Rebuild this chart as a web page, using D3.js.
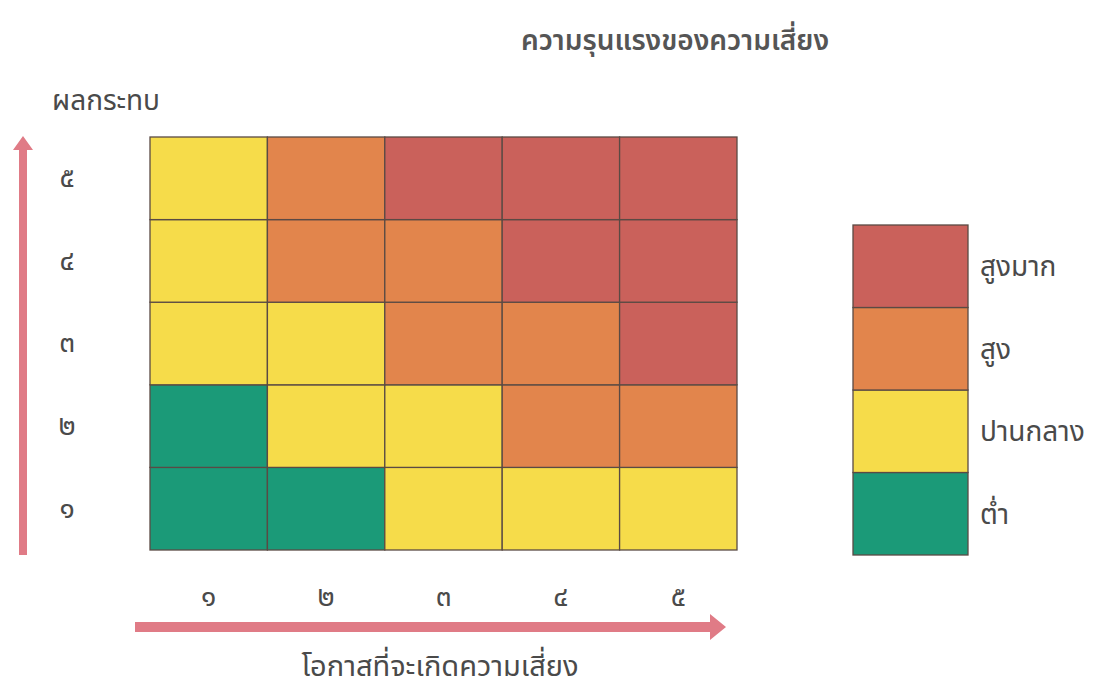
<!DOCTYPE html>
<html>
<head>
<meta charset="utf-8">
<script src="https://cdn.jsdelivr.net/npm/d3@7"></script>
<style>
  body { margin: 0; background: #fff; }
  text { font-family: "Noto Sans Thai", "Noto Sans", "DejaVu Sans", sans-serif; fill: #4a4a4a; }
</style>
</head>
<body>
<div class="risk-matrix"></div>
<script>
// chart data
const likelihood = ['๑', '๒', '๓', '๔', '๕'];
const impact = ['๑', '๒', '๓', '๔', '๕'];
const levels = ['ต่ำ', 'ปานกลาง', 'สูง', 'สูงมาก'];
const levelColors = ['#1b9a78', '#f6dc4a', '#e2854c', '#ca615b'];
// level index per cell, rows = impact ๑..๕, cols = likelihood ๑..๕
const grid = [
  [0, 0, 1, 1, 1],
  [0, 1, 1, 2, 2],
  [1, 1, 2, 2, 3],
  [1, 2, 2, 3, 3],
  [1, 2, 3, 3, 3]
];
const title = 'ความรุนแรงของความเสี่ยง';
const yTitle = 'ผลกระทบ';
const xTitle = 'โอกาสที่จะเกิดความเสี่ยง';

const width = 1097, height = 688;

const svg = d3.select('.risk-matrix')
  .append('svg')
    .attr('width', width)
    .attr('height', height);

// scales
const xScale = d3.scaleBand().domain(likelihood).range([150, 737]);
const yScale = d3.scaleBand().domain(impact).range([550, 137]);
const color = d3.scaleOrdinal().domain(levels).range(levelColors);

const cells = [];
grid.forEach((row, i) => row.forEach((lv, j) => cells.push({ x: likelihood[j], y: impact[i], level: levels[lv] })));

svg.append('g')
  .selectAll('rect')
  .data(cells)
  .join('rect')
    .attr('x', d => xScale(d.x))
    .attr('y', d => yScale(d.y))
    .attr('width', xScale.bandwidth())
    .attr('height', yScale.bandwidth())
    .attr('fill', d => color(d.level))
    .attr('stroke', '#5a4a44')
    .attr('stroke-width', 1.3);

// tick labels
svg.append('g')
  .attr('transform', 'translate(0,596)')
  .call(d3.axisBottom(xScale).tickSize(0))
  .call(g => g.select('.domain').remove())
  .selectAll('text')
    .attr('y', 0)
    .attr('dy', '0.35em')
    .style('font-size', '28px')
    .style('fill', '#4a4a4a');

svg.append('g')
  .attr('transform', 'translate(67,0)')
  .call(d3.axisLeft(yScale).tickSize(0))
  .call(g => g.select('.domain').remove())
  .selectAll('text')
    .attr('x', 0)
    .attr('text-anchor', 'middle')
    .style('font-size', '28px')
    .style('fill', '#4a4a4a');

// arrows
const arrowColor = '#e07b86';
svg.append('path')
  .attr('d', 'M135,622 L710,622 L710,614 L726,627 L710,640 L710,632 L135,632 Z')
  .attr('fill', arrowColor);

svg.append('path')
  .attr('d', 'M19,555 L19,150 L13,150 L23,136 L33,150 L27,150 L27,555 Z')
  .attr('fill', arrowColor);

// titles
svg.append('text')
  .attr('x', 675).attr('y', 50)
  .attr('text-anchor', 'middle')
  .style('font-size', '28px')
  .style('font-weight', '600')
  .style('fill', '#555')
  .text(title);

svg.append('text')
  .attr('x', 52).attr('y', 110)
  .style('font-size', '28px')
  .text(yTitle);

svg.append('text')
  .attr('x', 440).attr('y', 676)
  .attr('text-anchor', 'middle')
  .style('font-size', '29px')
  .text(xTitle);

// legend
const legendScale = d3.scaleBand().domain(levels.slice().reverse()).range([225, 555]);
const legend = svg.append('g');
legend.selectAll('rect')
  .data(levels)
  .join('rect')
    .attr('x', 853)
    .attr('y', d => legendScale(d))
    .attr('width', 115)
    .attr('height', legendScale.bandwidth())
    .attr('fill', d => color(d))
    .attr('stroke', '#5a4a44')
    .attr('stroke-width', 1.3);

legend.selectAll('text')
  .data(levels)
  .join('text')
    .attr('x', 980)
    .attr('y', d => legendScale(d) + legendScale.bandwidth() / 2)
    .attr('dy', '0.35em')
    .style('font-size', '28px')
    .text(d => d);
</script>
</body>
</html>
